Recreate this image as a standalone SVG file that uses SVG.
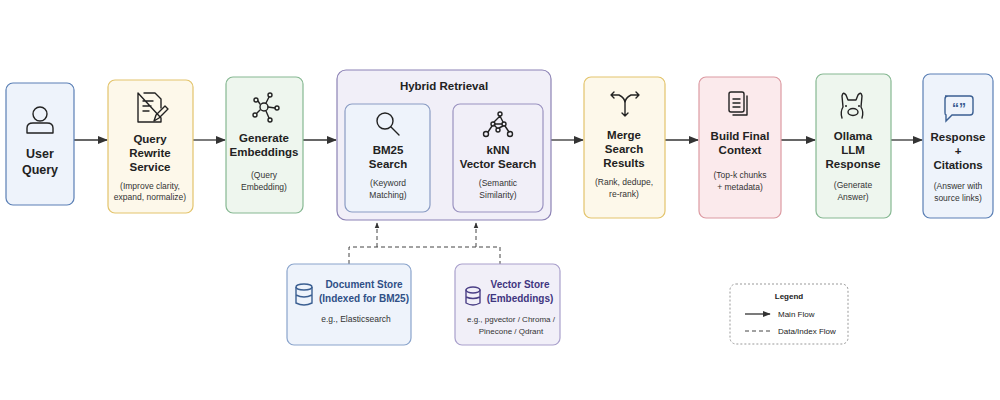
<svg xmlns="http://www.w3.org/2000/svg" width="1000" height="400" viewBox="0 0 1000 400">
<defs>
<marker id="ah" viewBox="0 0 10 10" refX="9" refY="5" markerWidth="8" markerHeight="8" orient="auto"><path d="M0,1 L10,5 L0,9 z" fill="#333"/></marker>
<marker id="ahs" viewBox="0 0 10 10" refX="9" refY="5" markerWidth="6" markerHeight="6" orient="auto"><path d="M0,1 L10,5 L0,9 z" fill="#333"/></marker>
</defs>
<style>
text{font-family:"Liberation Sans",Arial,sans-serif;fill:#222;text-anchor:middle}
.t{font-size:11.5px;font-weight:bold}
.s{font-size:8.5px;fill:#333}
.blue{fill:#eef3fb;stroke:#5a7fb5;stroke-width:1.2}
.yel{fill:#fdf8ea;stroke:#e3c46c;stroke-width:1.2}
.grn{fill:#eef6ee;stroke:#86b892;stroke-width:1.2}
.pur{fill:#f1eff8;stroke:#8c82b5;stroke-width:1.2}
.pnk{fill:#fbeaec;stroke:#dc9aa2;stroke-width:1.2}
.ic{fill:none;stroke:#222;stroke-width:1.4;stroke-linecap:round;stroke-linejoin:round}
.icb{fill:none;stroke:#3b5f92;stroke-width:1.4}
.main{stroke:#333;stroke-width:1.3;fill:none;marker-end:url(#ah)}
.dash{stroke:#444;stroke-width:1;stroke-dasharray:4,3;fill:none}
</style>
<g id="connectors">
<line class="main" x1="74" y1="140" x2="107" y2="140"/>
<line class="main" x1="193" y1="140" x2="225" y2="140"/>
<line class="main" x1="303" y1="140" x2="336" y2="140"/>
<line class="main" x1="551" y1="140" x2="583" y2="140"/>
<line class="main" x1="665" y1="140" x2="698" y2="140"/>
<line class="main" x1="781" y1="140" x2="815" y2="140"/>
<line class="main" x1="891" y1="140" x2="922" y2="140"/>
<path class="dash" d="M349,264 V247 H500 V264"/>
<line class="dash" x1="377" y1="247" x2="377" y2="223" marker-end="url(#ahs)"/>
<line class="dash" x1="476" y1="247" x2="476" y2="223" marker-end="url(#ahs)"/>
</g>
<g id="user-query">
<rect class="blue" x="6" y="83" width="68" height="122" rx="7"/>
<circle class="ic" cx="40" cy="114" r="7"/>
<path class="ic" d="M27,133 V128 Q27,123 33,123 H47 Q53,123 53,128 V133 Z"/>
<text class="t" x="40" y="158" style="font-size:12.5px">User</text>
<text class="t" x="40" y="174" style="font-size:12.5px">Query</text>
</g>
<g id="query-rewrite">
<rect class="yel" x="108" y="80" width="85" height="133" rx="7"/>
<path class="ic" d="M144,93 H155 L161,99 V108 M161,118 V122 H138 V93 Z M143,101 H153 M143,106 H151 M143,111 H149"/>
<path class="ic" d="M154,121 L156,115 L165,106 L168,109 L159,118 Z"/>
<text class="t" x="150" y="143">Query</text>
<text class="t" x="150" y="157">Rewrite</text>
<text class="t" x="150" y="171">Service</text>
<text class="s" x="150" y="189">(Improve clarity,</text>
<text class="s" x="150" y="200">expand, normalize)</text>
</g>
<g id="generate-embeddings">
<rect class="grn" x="226" y="77" width="77" height="136" rx="7"/>
<g class="ic"><circle cx="264" cy="107" r="4"/><circle cx="270" cy="95" r="2"/><circle cx="256" cy="100" r="2"/><circle cx="277" cy="108" r="2"/><circle cx="255" cy="115" r="2"/><circle cx="270" cy="120" r="2"/>
<path d="M266,103 L269,97 M260,104 L258,101 M268,107 L275,108 M260,110 L257,113 M266,111 L269,118"/></g>
<text class="t" x="264" y="142">Generate</text>
<text class="t" x="264" y="156">Embeddings</text>
<text class="s" x="264" y="178">(Query</text>
<text class="s" x="264" y="190">Embedding)</text>
</g>
<g id="hybrid-retrieval">
<rect class="pur" x="337" y="70" width="214" height="150" rx="9"/>
<text class="t" x="444" y="90">Hybrid Retrieval</text>
<g id="bm25">
<rect class="blue" x="345" y="104" width="85" height="108" rx="7" style="stroke:#8a9cc4"/>
<circle class="ic" cx="385" cy="121" r="8"/><line class="ic" x1="391" y1="127" x2="399" y2="135"/>
<text class="t" x="388" y="154">BM25</text>
<text class="t" x="388" y="168">Search</text>
<text class="s" x="388" y="186">(Keyword</text>
<text class="s" x="388" y="198">Matching)</text>
</g>
<g id="knn">
<rect class="pur" x="453" y="104" width="90" height="108" rx="7" style="stroke:#9a92c0"/>
<g class="ic"><circle cx="500" cy="114" r="2"/><circle cx="493" cy="124" r="2"/><circle cx="504" cy="124" r="2"/><circle cx="486" cy="134" r="2.5"/><circle cx="510" cy="134" r="2.5"/><circle cx="498" cy="130" r="2"/>
<path d="M500,116 L494,122 M500,116 L503,122 M495,124 H502 M492,126 L488,132 M505,126 L509,132 M494,125 L497,128 M503,126 L499,128"/></g>
<text class="t" x="498" y="154">kNN</text>
<text class="t" x="498" y="168">Vector Search</text>
<text class="s" x="498" y="186">(Semantic</text>
<text class="s" x="498" y="198">Similarity)</text>
</g>
</g>
<g id="merge">
<rect class="yel" x="584" y="77" width="81" height="141" rx="7"/>
<path class="ic" d="M625,116 V103 Q625,98 619,95 L611,95 M625,103 Q625,98 631,95 L639,95 M614,92 L611,95 L614,98 M636,92 L639,95 L636,98 M622,113 L625,116 L628,113"/>
<text class="t" x="624" y="139">Merge</text>
<text class="t" x="624" y="153">Search</text>
<text class="t" x="624" y="167">Results</text>
<text class="s" x="624" y="185">(Rank, dedupe,</text>
<text class="s" x="624" y="197">re-rank)</text>
</g>
<g id="build-context">
<rect class="pnk" x="699" y="77" width="82" height="141" rx="7"/>
<rect class="ic" x="729" y="92" width="15" height="20" rx="2"/>
<path class="ic" d="M747,96 V115 H733 M733,99 H740 M733,103 H740 M733,107 H740"/>
<text class="t" x="740" y="140">Build Final</text>
<text class="t" x="740" y="154">Context</text>
<text class="s" x="740" y="178">(Top-k chunks</text>
<text class="s" x="740" y="190">+ metadata)</text>
</g>
<g id="ollama">
<rect class="grn" x="816" y="74" width="75" height="144" rx="7"/>
<path class="ic" d="M843,107 L842,96 Q843,91 846,95 L848,100 H856 L858,95 Q861,91 862,96 L861,107 Q864,112 862,118 M843,107 Q840,112 842,118"/>
<ellipse class="ic" cx="853" cy="112" rx="5" ry="3.5"/>
<circle cx="846" cy="106" r="1" fill="#222"/><circle cx="859" cy="106" r="1" fill="#222"/>
<text class="t" x="853" y="140">Ollama</text>
<text class="t" x="853" y="154">LLM</text>
<text class="t" x="853" y="168">Response</text>
<text class="s" x="853" y="188">(Generate</text>
<text class="s" x="853" y="200">Answer)</text>
</g>
<g id="response">
<rect class="blue" x="923" y="74" width="70" height="144" rx="7"/>
<path class="icb" d="M945,96 H970 Q973,96 973,99 V112 Q973,115 970,115 H952 L946,121 V115 Q945,115 945,112 V99 Q945,96 948,96 Z"/>
<text x="959" y="113" style="font-size:14px;font-weight:bold;fill:#3b5f92">&#8220;&#8221;</text>
<text class="t" x="958" y="141">Response</text>
<text class="t" x="958" y="155">+</text>
<text class="t" x="958" y="169">Citations</text>
<text class="s" x="958" y="189">(Answer with</text>
<text class="s" x="958" y="201">source links)</text>
</g>
<g id="document-store">
<rect class="blue" x="287" y="264" width="124" height="81" rx="7" style="stroke:#8aa4cc"/>
<g class="icb"><ellipse cx="304" cy="287" rx="8" ry="3"/><path d="M296,287 V303 Q304,307 312,303 V287 M296,295 Q304,299 312,295"/></g>
<text class="t" x="364" y="288" style="fill:#2f4f86;font-size:10px">Document Store</text>
<text class="t" x="364" y="302" style="fill:#2f4f86;font-size:10px">(Indexed for BM25)</text>
<text class="s" x="356" y="322">e.g., Elasticsearch</text>
</g>
<g id="vector-store">
<rect class="pur" x="455" y="264" width="105" height="81" rx="7" style="stroke:#a9a0cc"/>
<g class="ic" style="stroke:#4b3f86"><ellipse cx="473" cy="290" rx="7" ry="3"/><path d="M466,290 V303 Q473,307 480,303 V290 M466,297 Q473,300 480,297"/></g>
<text class="t" x="520" y="288" style="fill:#3f3580;font-size:10px">Vector Store</text>
<text class="t" x="520" y="302" style="fill:#3f3580;font-size:10px">(Embeddings)</text>
<text class="s" x="511" y="322" style="font-size:8px">e.g., pgvector / Chroma /</text>
<text class="s" x="511" y="334" style="font-size:8px">Pinecone / Qdrant</text>
</g>
<g id="legend">
<rect x="730" y="284" width="118" height="60" rx="6" fill="#fff" stroke="#999" stroke-dasharray="2,2"/>
<text x="789" y="299" style="font-size:8px;font-weight:bold">Legend</text>
<line class="main" x1="745" y1="314" x2="770" y2="314" style="marker-end:url(#ahs)"/>
<text x="778" y="317" style="font-size:8px;text-anchor:start">Main Flow</text>
<line class="dash" x1="745" y1="331" x2="771" y2="331"/>
<text x="778" y="334" style="font-size:8px;text-anchor:start">Data/Index Flow</text>
</g>
</svg>
